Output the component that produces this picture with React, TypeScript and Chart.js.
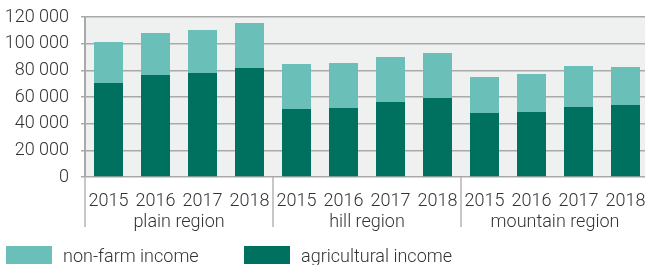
import React, { useEffect, useRef } from "react";
import { Chart, registerables } from "chart.js";

Chart.register(...registerables);

const groups = ["plain region", "hill region", "mountain region"];
const years = ["2015", "2016", "2017", "2018"];
const agricultural = [70500, 76500, 78000, 81750, 51000, 51750, 56250, 59250, 48000, 48750, 52500, 54000];
const nonFarm = [30750, 31500, 32250, 33750, 33750, 33750, 33750, 33750, 27000, 28500, 30750, 28500];
const yTicks = [0, 20000, 40000, 60000, 80000, 100000, 120000];

const DARK = "#00705f";
const LIGHT = "#6ac0b8";
const BG = "#eff0f0";
const GRID = "#a9a9a9";
const TEXT = "#333333";
const FONT = "Roboto";
const FS = 18;

const labels = groups.flatMap(() => years);

const fmt = (v: number) => String(v).replace(/\B(?=(\d{3})+(?!\d))/g, " ");

const bgPlugin = {
  id: "bg",
  beforeDraw(chart: any) {
    const { ctx, chartArea } = chart;
    ctx.save();
    ctx.fillStyle = BG;
    ctx.fillRect(chartArea.left, chartArea.top, chartArea.right - chartArea.left, chartArea.bottom - chartArea.top);
    ctx.restore();
  },
};

const groupPlugin = {
  id: "groups",
  afterDraw(chart: any) {
    const { ctx, chartArea } = chart;
    const x = chart.scales.x;
    const step = x.getPixelForValue(1) - x.getPixelForValue(0);
    ctx.save();
    ctx.strokeStyle = "#b4b4b4";
    ctx.lineWidth = 1.5;
    const n = years.length;
    for (let g = 0; g <= groups.length; g++) {
      const px = x.getPixelForValue(g * n) - step / 2;
      ctx.beginPath();
      ctx.moveTo(px, chartArea.bottom);
      ctx.lineTo(px, chartArea.bottom + 50);
      ctx.stroke();
    }
    ctx.fillStyle = TEXT;
    ctx.font = `300 ${FS}px ${FONT}`;
    ctx.textAlign = "center";
    ctx.textBaseline = "middle";
    groups.forEach((name, g) => {
      const a = x.getPixelForValue(g * n) - step / 2;
      const b = x.getPixelForValue(g * n + n - 1) + step / 2;
      ctx.fillText(name, (a + b) / 2, chartArea.bottom + 45);
    });
    const items = [
      { label: chart.data.datasets[1].label, color: chart.data.datasets[1].backgroundColor, x: 6 },
      { label: chart.data.datasets[0].label, color: chart.data.datasets[0].backgroundColor, x: 244 },
    ];
    ctx.textAlign = "left";
    items.forEach((it) => {
      ctx.fillStyle = it.color;
      ctx.fillRect(it.x, 246, 46, 18);
      ctx.fillStyle = TEXT;
      ctx.fillText(it.label, it.x + 57, 257);
    });
    ctx.restore();
  },
};

export default function App() {
  const ref = useRef<HTMLCanvasElement>(null);
  useEffect(() => {
    const chart = new Chart(ref.current!, {
      type: "bar",
      data: {
        labels,
        datasets: [
          { label: "agricultural income", data: agricultural, backgroundColor: DARK },
          { label: "non-farm income", data: nonFarm, backgroundColor: LIGHT },
        ],
      },
      options: {
        responsive: false,
        animation: false,
        devicePixelRatio: 1,
        layout: { padding: { top: 17, bottom: 38, left: 0, right: 0 } },
        datasets: { bar: { categoryPercentage: 1, barPercentage: 0.617 } },
        plugins: { legend: { display: false }, tooltip: { enabled: false } },
        scales: {
          x: {
            stacked: true,
            grid: { display: false, drawTicks: false },
            border: { display: false },
            ticks: { color: TEXT, font: { family: FONT, size: FS, weight: "300" }, padding: 14, maxRotation: 0, autoSkip: false },
            afterFit: (s: any) => { s.height = 50; s.paddingLeft = 0; s.paddingRight = 0; },
          },
          y: {
            stacked: true,
            min: 0,
            max: 120000,
            afterBuildTicks: (s: any) => { s.ticks = yTicks.map((v) => ({ value: v })); },
            grid: { color: GRID, lineWidth: 1.5, tickLength: 4 },
            border: { color: GRID, width: 2 },
            ticks: { color: TEXT, font: { family: FONT, size: FS, weight: "300" }, padding: 12, callback: (v: any) => fmt(Number(v)) },
            afterFit: (s: any) => { s.width = 85; s.paddingTop = 0; s.paddingBottom = 0; },
          },
        },
      },
      plugins: [bgPlugin, groupPlugin],
    });
    return () => chart.destroy();
  }, []);
  return (
    <div style={{ position: "fixed", left: 0, top: 0, width: 645, height: 265, overflow: "hidden", background: "#fff" }}>
      <canvas ref={ref} width={649} height={265} />
    </div>
  );
}
